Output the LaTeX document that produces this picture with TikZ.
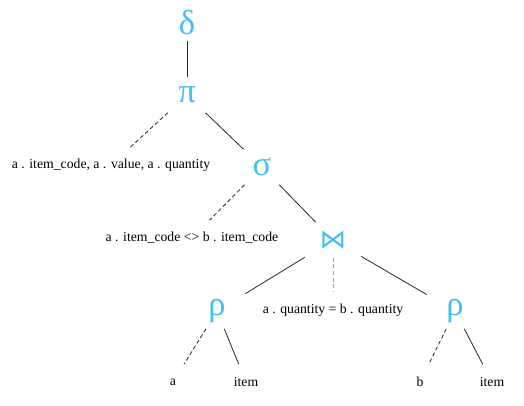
\documentclass[tikz,border=0pt]{standalone}
\usepackage{fontspec}
\setmainfont{Liberation Serif}
\newfontfamily\symfont{DejaVu Sans}
\usepackage{tikz}
\usetikzlibrary{positioning}
\definecolor{opblue}{HTML}{45BFF0}
\definecolor{joingray}{HTML}{A0A0A0}

\begin{document}
\begin{tikzpicture}[x=0.75pt,y=-0.75pt]

\tikzset{
opnode/.style={
inner sep=0pt,
minimum width=42pt,
minimum height=26.25pt,
text=opblue,
font=\fontsize{26}{26}\selectfont
},
argnode/.style={
inner sep=0pt,
minimum width=18pt,
minimum height=26.25pt,
font=\fontsize{10.3}{11}\selectfont
},
treeedge/.style={
draw=black!85,
line width=0.6pt
},
attredge/.style={
draw=black!85,
line width=0.6pt,
dash pattern=on 3pt off 2pt
},
condedge/.style={
draw=joingray,
line width=0.6pt,
dash pattern=on 3pt off 2pt
}
}

\useasboundingbox (0,0) rectangle (524,405);

%--------------------------------------------------
% OPERATORS
%--------------------------------------------------

\node[opnode] (dedup) at (187,23) {δ};
\node[opnode] (proj) at (187,95) {π};
\node[opnode] (sel) at (262,167) {σ};
\node[opnode] (join) at (333,240) {\symfont\fontsize{20}{20}\selectfont ⋈};
\node[opnode] (renameA) at (217,311) {ρ};
\node[opnode] (renameB) at (455,311) {ρ};

%--------------------------------------------------
% ARGUMENTS
%--------------------------------------------------

\node[argnode] (projcols) at (111,165) {a . item\_code, a . value, a . quantity};
\node[argnode] (selcond) at (192,238) {a . item\_code <> b . item\_code};
\node[argnode] (joincond) at (333,310) {a . quantity = b . quantity};
\node[argnode,minimum width=24pt] (aliasA) at (173,382) {a};
\node[argnode] (tableA) at (246,382) {item};
\node[argnode,minimum width=24pt] (aliasB) at (420,382) {b};
\node[argnode] (tableB) at (492,382) {item};

%--------------------------------------------------
% EDGES
%--------------------------------------------------

\draw[treeedge] (dedup) -- (proj);
\draw[attredge] (proj) -- (projcols);
\draw[treeedge] (proj) -- (sel);
\draw[attredge] (sel) -- (selcond);
\draw[treeedge] (sel) -- (join);
\draw[condedge] (join) -- (joincond);
\draw[treeedge] (join) -- (renameA);
\draw[treeedge] (join) -- (renameB);
\draw[attredge] (renameA) -- (aliasA);
\draw[treeedge] (renameA) -- (tableA);
\draw[attredge] (renameB) -- (aliasB);
\draw[treeedge] (renameB) -- (tableB);

\end{tikzpicture}
\end{document}
